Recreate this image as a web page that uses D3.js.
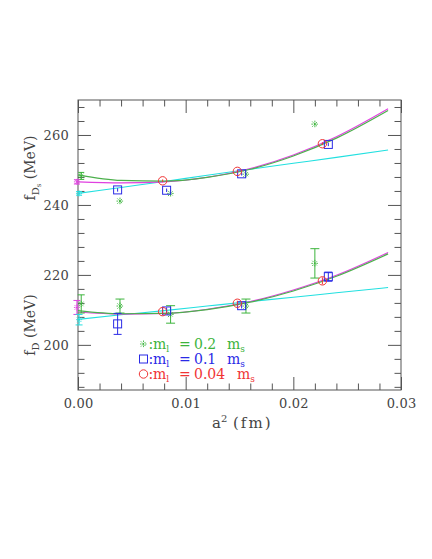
<!DOCTYPE html>
<html>
<head>
<meta charset="utf-8">
<script src="https://cdn.jsdelivr.net/npm/d3@7"></script>
<style>
  html, body { margin: 0; padding: 0; background: #fff; }
  svg { display: block; }
</style>
</head>
<body>
<svg id="chart" width="432" height="559"></svg>
<script>
// ---------- data ----------
const xMajorTicks = [0, 0.01, 0.02, 0.03];
const xTickLabels = ["0.00", "0.01", "0.02", "0.03"];
const yMajorTicks = [200, 220, 240, 260];
const yTickLabels = ["200", "220", "240", "260"];

// fit curves
const fitA2 = [0, 0.004, 0.008, 0.012, 0.016, 0.020, 0.024, 0.0288];
const fDsFitGreen   = [248.6, 247.0, 246.8, 247.9, 250.2, 254.0, 259.1, 267.0];
const fDsFitMagenta = [246.6, 246.3, 246.6, 247.9, 250.4, 254.3, 259.5, 267.5];
const fDsFitCyan    = [243.3, 245.0, 246.7, 248.5, 250.2, 251.9, 253.6, 255.7];
const fDFitGreen    = [209.8, 208.9, 209.0, 210.1, 212.2, 215.4, 219.6, 226.0];
const fDFitMagenta  = [209.4, 208.8, 209.0, 210.2, 212.4, 215.7, 219.9, 226.4];
const fDFitCyan     = [207.3, 208.6, 209.8, 211.1, 212.4, 213.6, 214.9, 216.4];

// data points: m_l = 0.2 m_s (green)
const a2Ml02 = [0.0039, 0.0086, 0.0156, 0.0220];
const fDsMl02 = [241.1, 243.3, 248.8, 263.1];
const fDsMl02Err = [0.4, 0.4, 0.4, 0.4];
const fDMl02 = [211.1, 208.7, 211.1, 223.3];
const fDMl02Err = [2.0, 2.5, 2.0, 4.2];
// m_l = 0.1 m_s (blue)
const a2Ml01 = [0.00368, 0.00823, 0.0152, 0.02325];
const fDsMl01 = [244.3, 244.2, 248.9, 257.3];
const fDsMl01Err = [0.5, 0.5, 0.5, 0.5];
const fDMl01 = [206.0, 209.7, 211.2, 219.5];
const fDMl01Err = [3.0, 1.0, 0.8, 1.3];
// m_l = 0.04 m_s (red)
const a2Ml004 = [0.00786, 0.0148, 0.0227];
const fDsMl004 = [246.9, 249.6, 257.5];
const fDsMl004Err = [0.4, 0.4, 0.4];
const fDMl004 = [209.5, 211.9, 218.3];
const fDMl004Err = [0.8, 0.7, 1.0];

// continuum extrapolations at a^2 = 0 (green, magenta, cyan)
const extrapA2 = [0.0003, -0.0001, 0.0001];
const fDsExtrap = [248.3, 246.6, 243.3];
const fDsExtrapErr = [1.0, 0.6, 0.5];
const fDExtrap = [211.7, 210.7, 207.2];
const fDExtrapErr = [2.6, 2.0, 1.5];

// legend
const legendLabels = ["0.2", "0.1", "0.04"];

// ---------- styles ----------
const FONT = "'DejaVu Serif', serif";
const C = {
  green: "#3cb43c", greenLine: "#4cb04c", blue: "#2a2ae6", red: "#f03434",
  magenta: "#e040e0", cyan: "#22e0e0", axis: "#555", text: "#444"
};

const svg = d3.select("#chart");
const L = 78, R = 401, T = 100, B = 390;
const x = d3.scaleLinear().domain([0, 0.03]).range([L, R]);
const y = d3.scaleLinear().domain([187.1, 270]).range([B, T]);

// ---------- axes ----------
const xMinor = d3.range(0, 0.0301, 0.002).filter(v => !xMajorTicks.some(m => Math.abs(m - v) < 1e-9));
const yMinor = d3.range(188, 270, 4).filter(v => !yMajorTicks.includes(v));
const MAJ = 13, MIN = 6.5;

function addAxis(gen, tx, ty, vals, size, labels) {
  const g = svg.append("g").attr("transform", `translate(${tx},${ty})`)
    .call(gen.tickValues(vals).tickSizeInner(-size).tickSizeOuter(0).tickPadding(9)
      .tickFormat(labels ? (d, i) => labels[i] : () => ""));
  g.select(".domain").remove();
  g.selectAll("line").attr("stroke", C.axis);
  g.selectAll("text").attr("fill", C.text).attr("font-size", 13)
    .style("font-family", FONT).attr("letter-spacing", "0.2px");
  if (!labels) g.selectAll("text").remove();
  return g;
}
addAxis(d3.axisBottom(x), 0, B, xMajorTicks, MAJ, xTickLabels);
addAxis(d3.axisBottom(x), 0, B, xMinor, MIN, null);
addAxis(d3.axisTop(x), 0, T, xMajorTicks, MAJ, null);
addAxis(d3.axisTop(x), 0, T, xMinor, MIN, null);
addAxis(d3.axisLeft(y), L, 0, yMajorTicks, MAJ, yTickLabels);
addAxis(d3.axisLeft(y), L, 0, yMinor, MIN, null);
addAxis(d3.axisRight(y), R, 0, yMajorTicks, MAJ, null);
addAxis(d3.axisRight(y), R, 0, yMinor, MIN, null);

svg.append("rect").attr("x", L).attr("y", T).attr("width", R - L).attr("height", B - T)
  .attr("fill", "none").attr("stroke", C.axis).attr("stroke-width", 1);

// ---------- curves ----------
const line = d3.line().x(d => x(d[0])).y(d => y(d[1])).curve(d3.curveMonotoneX);
function drawCurve(vals, color, w) {
  svg.append("path").datum(fitA2.map((a, i) => [a, vals[i]]))
    .attr("d", line).attr("fill", "none").attr("stroke", color).attr("stroke-width", w || 1.1);
}
drawCurve(fDsFitCyan, C.cyan);
drawCurve(fDsFitMagenta, C.magenta);
drawCurve(fDsFitGreen, C.greenLine, 1.2);
drawCurve(fDFitCyan, C.cyan);
drawCurve(fDFitMagenta, C.magenta);
drawCurve(fDFitGreen, C.greenLine, 1.2);

// ---------- markers ----------
function errBar(g, px, v, e, color, cap) {
  g.append("line").attr("x1", px).attr("x2", px).attr("y1", y(v - e)).attr("y2", y(v + e))
    .attr("stroke", color).attr("stroke-width", 1);
  if (cap) {
    [v - e, v + e].forEach(vv => g.append("line").attr("x1", px - cap).attr("x2", px + cap)
      .attr("y1", y(vv)).attr("y2", y(vv)).attr("stroke", color).attr("stroke-width", 1));
  }
}
function asterisk(g, px, py, color, s) {
  s = s || 3.5;
  const segs = [[-s, 0, s, 0], [0, -s, 0, s], [-s * 0.75, -s * 0.75, s * 0.75, s * 0.75], [-s * 0.75, s * 0.75, s * 0.75, -s * 0.75]];
  segs.forEach(q => g.append("line").attr("x1", px + q[0]).attr("y1", py + q[1]).attr("x2", px + q[2]).attr("y2", py + q[3])
    .attr("stroke", color).attr("stroke-width", 0.9).attr("stroke-dasharray", "1.6,0.9"));
}
function square(g, px, py, color) {
  g.append("rect").attr("x", px - 4).attr("y", py - 4).attr("width", 8).attr("height", 8)
    .attr("fill", "none").attr("stroke", color).attr("stroke-width", 1);
}
function circle(g, px, py, color) {
  g.append("circle").attr("cx", px).attr("cy", py).attr("r", 4.2)
    .attr("fill", "none").attr("stroke", color).attr("stroke-width", 1);
}

const gm = svg.append("g");
function series(a2s, vals, errs, color, marker, cap) {
  a2s.forEach((a, i) => {
    const px = x(a), py = y(vals[i]);
    errBar(gm, px, vals[i], errs[i], color, errs[i] > 1.2 ? cap : 0);
    marker(gm, px, py, color);
  });
}
series(a2Ml02, fDsMl02, fDsMl02Err, C.green, asterisk, 4);
series(a2Ml01, fDsMl01, fDsMl01Err, C.blue, square, 4);
series(a2Ml004, fDsMl004, fDsMl004Err, C.red, circle, 4);
series(a2Ml02, fDMl02, fDMl02Err, C.green, asterisk, 4.5);
series(a2Ml01, fDMl01, fDMl01Err, C.blue, square, 4);
series(a2Ml004, fDMl004, fDMl004Err, C.red, circle, 4);

// extrapolated values
const extrapColors = [C.green, C.magenta, C.cyan];
extrapA2.forEach((a, i) => {
  const px = x(a);
  errBar(gm, px, fDsExtrap[i], fDsExtrapErr[i], extrapColors[i], 3);
  asterisk(gm, px, y(fDsExtrap[i]), extrapColors[i], 3);
  errBar(gm, px, fDExtrap[i], fDExtrapErr[i], extrapColors[i], 3.5);
  asterisk(gm, px, y(fDExtrap[i]), extrapColors[i], 3);
});

// ---------- legend ----------
const legColors = [C.green, C.blue, C.red];
const legMarkers = [asterisk, square, circle];
const lg = svg.append("g");
legendLabels.forEach((lab, i) => {
  const by = 349 + i * 15;
  legMarkers[i](lg, 143.5, by - 5, legColors[i]);
  const t = lg.append("text").attr("y", by).attr("fill", legColors[i]).attr("font-size", 14)
    .style("font-family", FONT);
  t.append("tspan").attr("x", 148.5).text(":");
  t.append("tspan").attr("x", 153).text("m");
  t.append("tspan").attr("dy", 2.5).attr("font-size", 9).text("l");
  t.append("tspan").attr("x", 179).attr("dy", -2.5).text("=");
  t.append("tspan").attr("x", 194).text(lab);
  const mx = lab.length > 3 ? 237 : 227;
  t.append("tspan").attr("x", mx).text("m");
  t.append("tspan").attr("dy", 2.5).attr("font-size", 9).text("s");
});

// ---------- axis titles ----------
const xt = svg.append("text").attr("y", 428).attr("fill", C.text).attr("font-size", 15).style("font-family", FONT);
xt.append("tspan").attr("x", 212).text("a");
xt.append("tspan").attr("dy", -6).attr("font-size", 10).text("2");
xt.append("tspan").attr("x", 233).attr("dy", 6).attr("letter-spacing", "2px").text("(fm)");

function yTitle(cy, sub2) {
  const t = svg.append("text").attr("transform", `translate(35,${cy}) rotate(-90)`)
    .attr("text-anchor", "middle").attr("fill", C.text).attr("font-size", 14).style("font-family", FONT);
  t.append("tspan").text("f");
  t.append("tspan").attr("dy", 4).attr("font-size", 10).text("D");
  let back = -4;
  if (sub2) { t.append("tspan").attr("dy", 2).attr("font-size", 7).text(sub2); back = -6; }
  t.append("tspan").attr("dy", back).text(" (MeV)");
}
yTitle(168, "s");
yTitle(325, null);
</script>
</body>
</html>
